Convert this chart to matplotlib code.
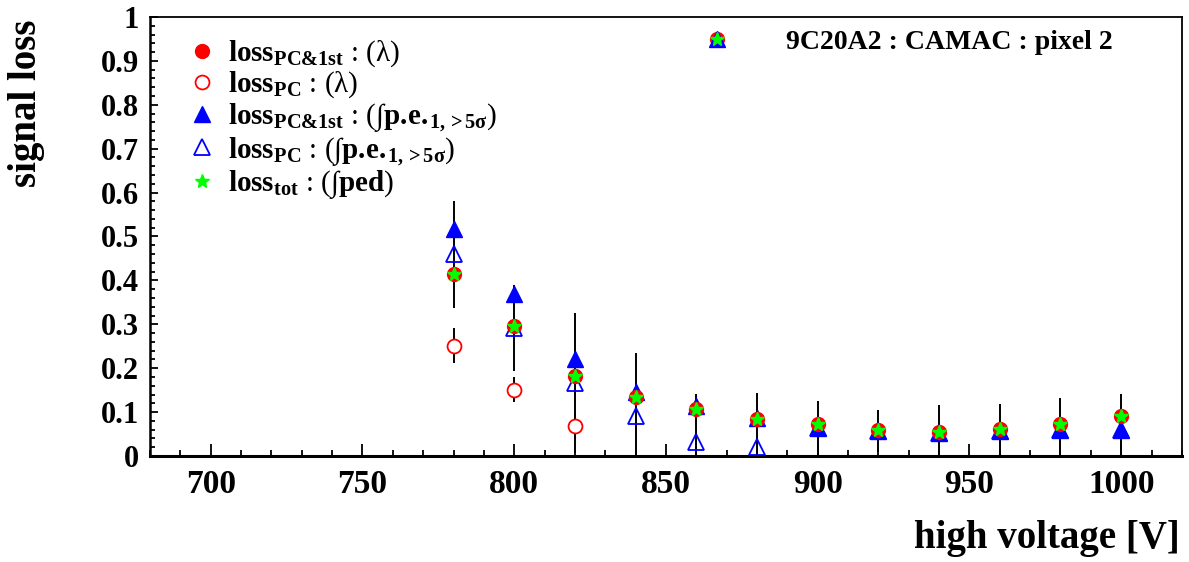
import matplotlib
matplotlib.use('Agg')
import matplotlib.pyplot as plt
from matplotlib.ticker import MultipleLocator, FuncFormatter
from matplotlib.legend_handler import HandlerTuple

plt.rcParams['font.family'] = ['Liberation Serif', 'DejaVu Serif']
plt.rcParams['mathtext.fontset'] = 'custom'
plt.rcParams['mathtext.rm'] = 'Liberation Serif'
plt.rcParams['mathtext.bf'] = 'Liberation Serif:bold'
plt.rcParams['mathtext.it'] = 'Liberation Serif:italic'

# high voltage points [V]
hv = [780, 800, 820, 840, 860, 880, 900, 920, 940, 960, 980, 1000]

# loss_PC&1st : (lambda) -- also the same as loss_tot : (int ped)
loss_pc1st_lambda = [0.415, 0.295, 0.183, 0.135, 0.108, 0.084, 0.074, 0.059, 0.054, 0.062, 0.073, 0.092]
loss_tot_ped = [0.415, 0.295, 0.183, 0.135, 0.108, 0.084, 0.074, 0.059, 0.054, 0.062, 0.073, 0.092]

# loss_PC : (lambda), only the first three lie above zero
hv_pc_lambda = [780, 800, 820]
loss_pc_lambda = [0.251, 0.151, 0.068]
err_pc_lambda = [0.040, 0.028, 0.030]

# loss_PC&1st : (int p.e.)
loss_pc1st_pe = [0.518, 0.368, 0.220, 0.146, 0.113, 0.086, 0.064, 0.057, 0.052, 0.058, 0.059, 0.059]

# loss_PC : (int p.e.)
loss_pc_pe = [0.459, 0.292, 0.166, 0.090, 0.033, 0.021, 0.064, 0.057, 0.052, 0.058, 0.059, 0.059]
err_pc_pe = [0.121, 0.098, 0.160, 0.145, 0.108, 0.123, 0.062, 0.048, 0.064, 0.060, 0.074, 0.083]

fig, ax = plt.subplots(figsize=(11.89, 5.62), dpi=100)
fig.subplots_adjust(left=0.1262, right=0.9940, bottom=0.1886, top=0.9698)

ax.errorbar(hv, loss_pc_pe, yerr=err_pc_pe, fmt='none', ecolor='black', elinewidth=1.4, capsize=0, zorder=1)
ax.errorbar(hv_pc_lambda, loss_pc_lambda, yerr=err_pc_lambda, fmt='none', ecolor='black', elinewidth=1.4, capsize=0, zorder=1)

h_pc_l, = ax.plot(hv_pc_lambda, loss_pc_lambda, ls='none', marker='o', ms=10, mfc='white', mec='#ff0000', mew=1.3, zorder=2)
h_pc1_pe, = ax.plot(hv, loss_pc1st_pe, ls='none', marker='^', ms=11, mfc='#0000ff', mec='#0000ff', zorder=3)
h_pc_pe, = ax.plot(hv, loss_pc_pe, ls='none', marker='^', ms=11, mfc='none', mec='#0000ff', mew=1.3, zorder=4)
h_pc1_l, = ax.plot(hv, loss_pc1st_lambda, ls='none', marker='o', ms=10, mfc='#ff0000', mec='#ff0000', zorder=5)
h_tot, = ax.plot(hv, loss_tot_ped, ls='none', marker='*', ms=10, mfc='#00ff00', mec='#00ff00', zorder=6)

labels = [r'$\mathbf{loss_{PC&1st}}$ : (λ)',
          r'$\mathbf{loss_{PC}}$ : (λ)',
          r'$\mathbf{loss_{PC&1st}}$ : (∫$\mathbf{p.\!e.\!_{1,>5σ}}$)',
          r'$\mathbf{loss_{PC}}$ : (∫$\mathbf{p.\!e.\!_{1,>5σ}}$)',
          r'$\mathbf{loss_{tot}}$ : (∫$\mathbf{ped}$)']
leg = ax.legend([h_pc1_l, h_pc_l, h_pc1_pe, h_pc_pe, h_tot], labels,
                loc='upper left', bbox_to_anchor=(0.036, 0.951), frameon=False,
                fontsize=21, handlelength=1.0, handletextpad=0.4, labelspacing=0.02,
                borderpad=0, borderaxespad=0)
ax.add_artist(leg)

ax.legend([(h_pc1_l, h_pc1_pe, h_tot)], ['9C20A2 : CAMAC : pixel 2'],
          handler_map={tuple: HandlerTuple(ndivide=1)},
          loc='center left', bbox_to_anchor=(0.536, 0.943), frameon=False,
          prop={'size': 20, 'weight': 'bold'}, handlelength=1.0, handletextpad=2.0,
          borderpad=0, borderaxespad=0)

ax.set_xlim(680, 1020)
ax.set_ylim(0, 1)
ax.xaxis.set_major_locator(MultipleLocator(50))
ax.xaxis.set_minor_locator(MultipleLocator(10))
ax.yaxis.set_major_locator(MultipleLocator(0.1))
ax.yaxis.set_minor_locator(MultipleLocator(0.02))
ax.yaxis.set_major_formatter(FuncFormatter(lambda v, p: '%g' % round(v, 2)))

ax.tick_params(axis='both', which='both', direction='in', top=False, right=False, width=1.3)
ax.tick_params(axis='x', which='major', length=9, pad=9, labelsize=24)
ax.tick_params(axis='x', which='minor', length=4.5)
ax.tick_params(axis='y', which='major', length=6, pad=8, labelsize=22)
ax.tick_params(axis='y', which='minor', length=3.5)
for lab in ax.get_xticklabels() + ax.get_yticklabels():
    lab.set_fontweight('bold')

for sp in ax.spines.values():
    sp.set_linewidth(1.3)
ax.spines['bottom'].set_linewidth(2.2)
ax.spines['left'].set_linewidth(1.8)

ax.set_xlabel('high voltage [V]', fontsize=28, fontweight='bold', ha='right', va='top')
ax.xaxis.set_label_coords(0.998, -0.146)
ax.set_ylabel('signal loss', fontsize=28, fontweight='bold', ha='right', va='bottom')
ax.yaxis.set_label_coords(-0.102, 0.995)

plt.savefig('out.png', dpi=100)
